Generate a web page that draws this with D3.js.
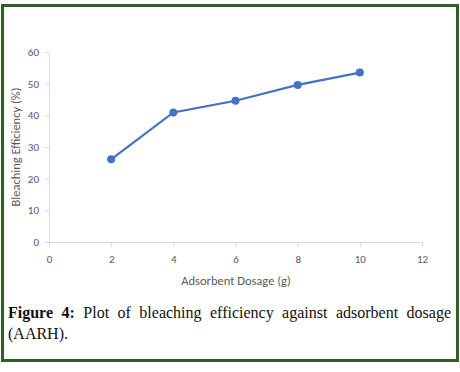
<!DOCTYPE html>
<html><head><meta charset="utf-8">
<script src="https://cdn.jsdelivr.net/npm/d3@7"></script>
<style>
html,body{margin:0;padding:0;background:#fff;}
#wrap{position:relative;width:460px;height:372px;}
#frame{position:absolute;left:1px;top:4px;width:452px;height:352px;border:3px solid #2f5f26;}
#cap{position:absolute;left:8px;top:302px;width:443px;font-family:"Liberation Serif","Times New Roman",serif;font-size:16px;line-height:21px;color:#111;}
#cap .l1{text-align:justify;text-align-last:justify;white-space:nowrap;}
svg{position:absolute;left:0;top:0;}
</style></head>
<body><div id="wrap"><div id="frame"></div><svg id="chart" width="460" height="372"></svg>
<div id="cap"></div></div>
<script>
const dosage = [2, 4, 6, 8, 10];
const efficiency = [26.1, 40.9, 44.6, 49.6, 53.5];
const xTicks = [0, 2, 4, 6, 8, 10, 12];
const yTicks = [0, 10, 20, 30, 40, 50, 60];
const xTitle = "Adsorbent Dosage (g)";
const yTitle = "Bleaching Efficiency (%)";
const capLabel = "Figure 4:";
const capLine1 = "Plot of bleaching efficiency against adsorbent dosage";
const capLine2 = "(AARH).";

const cap = d3.select("#cap");
const l1 = cap.append("div").attr("class", "l1").style("white-space", "normal");
l1.append("b").text(capLabel);
l1.append("span").text(" " + capLine1);
cap.append("div").text(capLine2);

const svg = d3.select("#chart");
const x = d3.scaleLinear().domain([0, 12]).range([49, 422]);
const y = d3.scaleLinear().domain([0, 60]).range([242, 52]);
const font = "Calibri, Carlito, 'Liberation Sans', 'DejaVu Sans', sans-serif";

const xa = svg.append("g").attr("transform", "translate(0,242)")
  .call(d3.axisBottom(x).tickValues(xTicks).tickSize(5).tickPadding(8).tickSizeOuter(0));
const ya = svg.append("g").attr("transform", "translate(49,0)")
  .call(d3.axisLeft(y).tickValues(yTicks).tickSize(4).tickPadding(6).tickSizeOuter(0));
[xa, ya].forEach(a => {
  a.selectAll("path,line").attr("stroke", "#d9d9d9");
  a.selectAll("text").attr("fill", "#595959").style("font-family", font).style("font-size", "11px");
});

svg.append("text").attr("x", 236).attr("y", 285).attr("text-anchor", "middle")
  .attr("fill", "#595959").style("font-family", font).style("font-size", "12.5px").text(xTitle);
svg.append("text").attr("transform", "translate(20,147) rotate(-90)").attr("text-anchor", "middle")
  .attr("fill", "#595959").style("font-family", font).style("font-size", "12.5px").text(yTitle);

const pts = dosage.map((d, i) => [d, efficiency[i]]);
svg.append("path").datum(pts)
  .attr("d", d3.line().x(d => x(d[0])).y(d => y(d[1])))
  .attr("fill", "none").attr("stroke", "#4472c4").attr("stroke-width", 2.2);
svg.selectAll("circle.pt").data(pts).enter().append("circle")
  .attr("cx", d => x(d[0])).attr("cy", d => y(d[1])).attr("r", 4)
  .attr("fill", "#4472c4");
</script></body></html>
